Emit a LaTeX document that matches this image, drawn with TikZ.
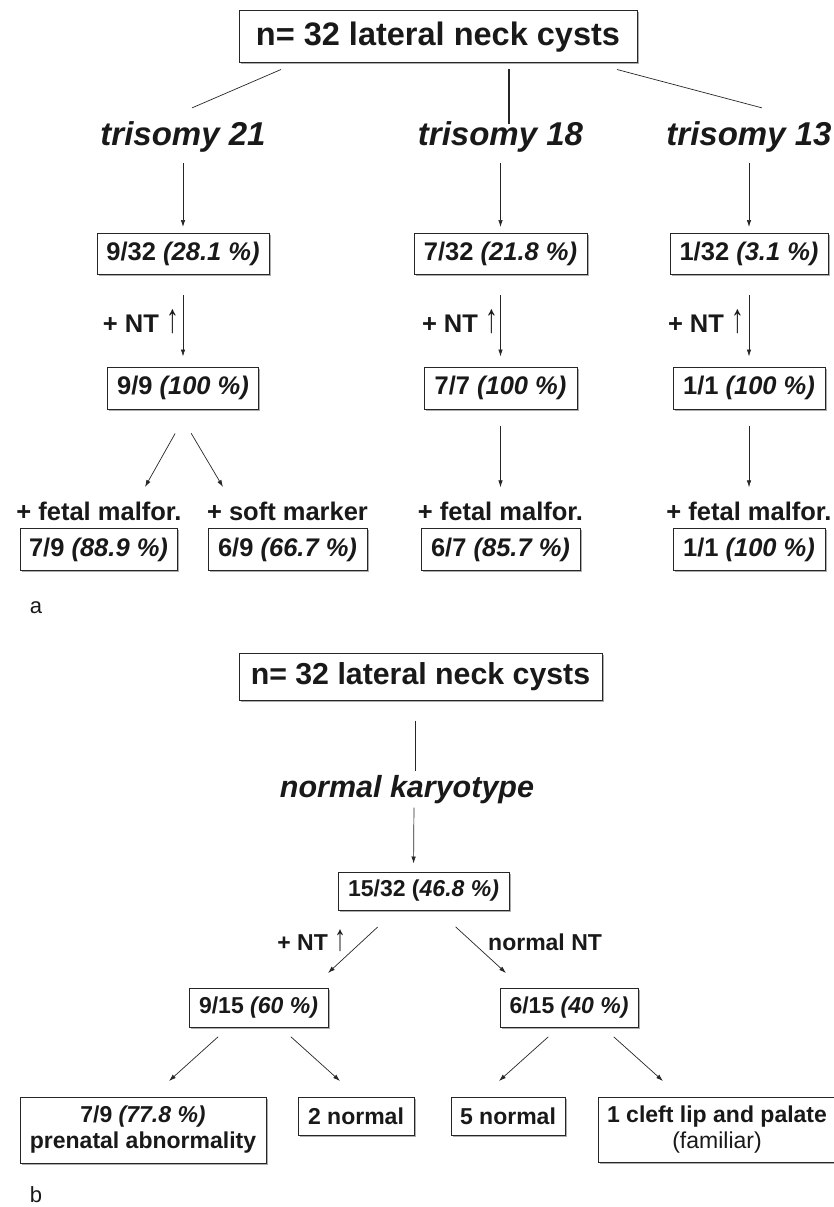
\documentclass[tikz,border=0pt]{standalone}
\usepackage{fontspec}
\usepackage{graphicx}
\setmainfont{Liberation Sans}
\usetikzlibrary{arrows.meta,shadows}

\newcommand{\fTitleA}{\fontsize{32.5}{38}\selectfont\bfseries}
\newcommand{\fTitleB}{\fontsize{30.3}{36}\selectfont\bfseries}
\newcommand{\fTriA}{\fontsize{33}{38}\selectfont\bfseries\itshape}
\newcommand{\fTriB}{\fontsize{30.5}{36}\selectfont\bfseries\itshape}
\newcommand{\fBodyA}{\fontsize{25.5}{30}\selectfont\bfseries}
\newcommand{\fBodyB}{\fontsize{23}{26}\selectfont\bfseries}
\newcommand{\fPanel}{\fontsize{22}{26}\selectfont}
\newcommand{\ntup}{{\mdseries\scalebox{1}[1.6]{↑}}}

\tikzset{
  box/.style={draw=black!85, line width=1pt, fill=white, inner sep=0pt, align=center,
    drop shadow={shadow xshift=1.5pt, shadow yshift=-1.5pt, fill=black!40, opacity=0.8}},
  lbl/.style={inner sep=0pt, anchor=base},
  arr/.style={-{Latex[length=7pt,width=4.5pt]}, line width=0.7pt, draw=black!85},
  conn/.style={line width=0.7pt, draw=black!85},
}

\begin{document}
\begin{tikzpicture}[x=1pt,y=-1pt]

      \fill[white] (0,0) rectangle (834,1207);
      \useasboundingbox (0,0) rectangle (834,1207);

      \begin{scope}[every node/.style={box, font=\fBodyA, text=black!90}]
        \node[minimum width=398, minimum height=52, font=\fTitleA] (topA) at (438,37) {n= 32 lateral neck cysts};
        \node[minimum width=172, minimum height=41] (b21) at (183,254)   {9/32 \textit{(28.1 \%)}};
        \node[minimum width=173, minimum height=41] (b18) at (500.5,254) {7/32 \textit{(21.8 \%)}};
        \node[minimum width=158, minimum height=41] (b13) at (749,254)   {1/32 \textit{(3.1 \%)}};
        \node[minimum width=151, minimum height=42] (c21) at (183,388)   {9/9 \textit{(100 \%)}};
        \node[minimum width=153, minimum height=42] (c18) at (500.5,388) {7/7 \textit{(100 \%)}};
        \node[minimum width=152, minimum height=42] (c13) at (749,388)   {1/1 \textit{(100 \%)}};
        \node[minimum width=157, minimum height=42] (d21) at (98.5,549.5)  {7/9 \textit{(88.9 \%)}};
        \node[minimum width=159, minimum height=42] (e21) at (287.5,549.5) {6/9 \textit{(66.7 \%)}};
        \node[minimum width=159, minimum height=42] (d18) at (500.5,549.5) {6/7 \textit{(85.7 \%)}};
        \node[minimum width=152, minimum height=42] (d13) at (749,549.5)   {1/1 \textit{(100 \%)}};
      \end{scope}

      \begin{scope}[every node/.style={box, font=\fBodyB, text=black!90}]
        \node[minimum width=363, minimum height=47, font=\fTitleB] (topB) at (420.5,676.5) {n= 32 lateral neck cysts};
        \node[minimum width=171, minimum height=38] (k15)  at (423.5,891)  {15/32 (\textit{46.8 \%)}};
        \node[minimum width=139, minimum height=39] (p915) at (258.5,1007.5) {9/15 \textit{(60 \%)}};
        \node[minimum width=138, minimum height=39] (p615) at (569,1007.5)   {6/15 \textit{(40 \%)}};
        \node[minimum width=246, minimum height=66] (abn)  at (143,1130)   {7/9 \textit{(77.8 \%)}\\prenatal abnormality};
        \node[minimum width=116, minimum height=38] (n2)   at (356,1116)   {2 normal};
        \node[minimum width=114, minimum height=38] (n5)   at (508,1116)   {5 normal};
        \node[minimum width=238, minimum height=65] (cl)   at (717,1129.5) {1 cleft lip and palate\\{\mdseries (familiar)}};
      \end{scope}

      \begin{scope}[every node/.style={lbl, text=black!90}]
        \node[font=\fTriA] (t21) at (183,145)   {trisomy 21};
        \node[font=\fTriA] (t18) at (500.5,145) {trisomy 18};
        \node[font=\fTriA] (t13) at (749,145)   {trisomy 13};
        \node[font=\fBodyA, anchor=base east] (nt21) at (179,332) {+ NT \ntup};
        \node[font=\fBodyA, anchor=base east] (nt18) at (498,332) {+ NT \ntup};
        \node[font=\fBodyA, anchor=base east] (nt13) at (744,332) {+ NT \ntup};
        \node[font=\fBodyA] (fm21) at (99,520)    {+ fetal malfor.};
        \node[font=\fBodyA] (sm21) at (287.5,520) {+ soft marker};
        \node[font=\fBodyA] (fm18) at (500.5,520) {+ fetal malfor.};
        \node[font=\fBodyA] (fm13) at (749,520)   {+ fetal malfor.};
        \node[font=\fPanel] (pa) at (36,613) {a};
        \node[font=\fTriB] (nk) at (407,797) {normal karyotype};
        \node[font=\fBodyB, anchor=base east] (ntL) at (346,950) {+ NT \ntup};
        \node[font=\fBodyB, anchor=base west] (ntR) at (488,950) {normal NT};
        \node[font=\fPanel] (pb) at (36,1202) {b};
      \end{scope}

      \coordinate (fmTip) at (145,487);
      \coordinate (smTip) at (223,487);
      \coordinate (plTip) at (328,973);
      \coordinate (nnTip) at (506,973);
      \coordinate (abTip) at (169,1081);
      \coordinate (n2Tip) at (340,1081);
      \coordinate (n5Tip) at (499,1081);
      \coordinate (clTip) at (663,1081);

      \begin{scope}[every edge/.style={conn}]
        \path ([xshift=-157pt,yshift=-6pt]topA.south) edge ([xshift=9pt,yshift=13pt]t21.north);
        \path ([xshift=71pt,yshift=-6pt]topA.south) edge[line width=1.4pt] ([xshift=8.5pt,yshift=-3pt]t18.north);
        \path ([xshift=179pt,yshift=-6pt]topA.south) edge ([xshift=13pt,yshift=13pt]t13.north);
        \path ([xshift=-5.5pt,yshift=-20pt]topB.south) edge ([xshift=8pt,yshift=4pt]nk.north);
      \end{scope}

      \begin{scope}[every edge/.style={arr}]
        \path (t21) edge[shorten <=11pt, shorten >=6pt] (b21);
        \path (t18) edge[shorten <=11pt, shorten >=6pt] (b18);
        \path (t13) edge[shorten <=11pt, shorten >=6pt] (b13);
        \path (b21) edge[shorten <=20pt, shorten >=10pt] (c21);
        \path (b18) edge[shorten <=20pt, shorten >=10pt] (c18);
        \path (b13) edge[shorten <=20pt, shorten >=10pt] (c13);
        \path ([yshift=-10pt]c21.south) edge[shorten <=16pt] (fmTip);
        \path ([yshift=-10pt]c21.south) edge[shorten <=16pt] (smTip);
        \path (c18) edge[shorten <=16pt, shorten >=14pt] (fm18);
        \path (c13) edge[shorten <=16pt, shorten >=14pt] (fm13);
        \path ([xshift=7pt]nk.south) edge[shorten <=4pt, shorten >=8pt] ([xshift=-10pt]k15.north);
        \path ([xshift=-7pt]k15.center) edge[shorten <=53pt] (plTip);
        \path ([xshift=-7pt]k15.center) edge[shorten <=53pt] (nnTip);
        \path ([xshift=-4pt,yshift=3.5pt]p915.center) edge[shorten <=49pt] (abTip);
        \path ([xshift=-4pt,yshift=3.5pt]p915.center) edge[shorten <=49pt] (n2Tip);
        \path ([xshift=12pt]p615.center) edge[shorten <=44pt] (n5Tip);
        \path ([xshift=12pt]p615.center) edge[shorten <=44pt] (clTip);
      \end{scope}

    \end{tikzpicture}
\end{document}
